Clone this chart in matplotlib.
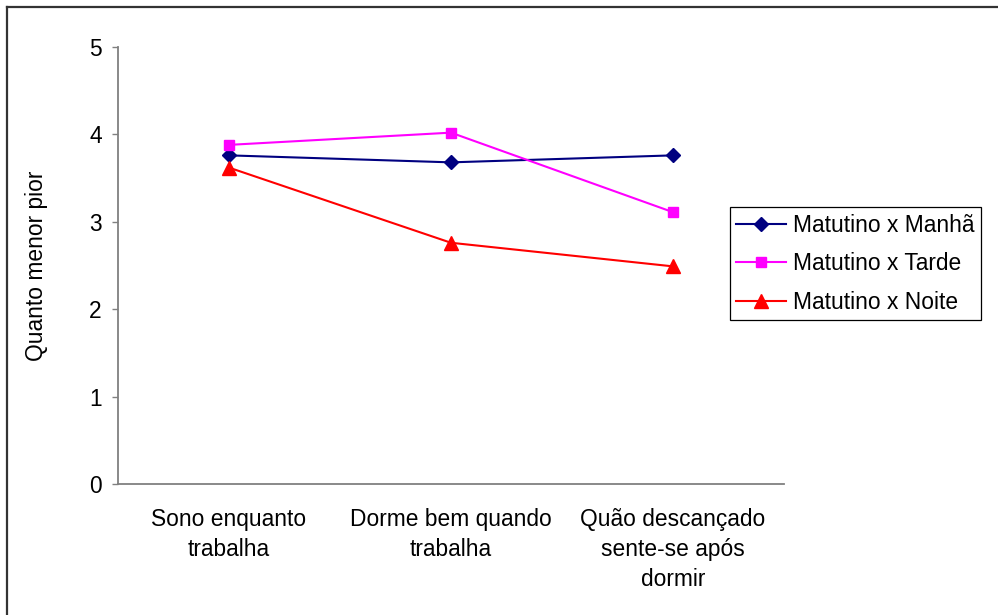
import matplotlib
matplotlib.use("Agg")
import matplotlib.pyplot as plt
from matplotlib.lines import Line2D

plt.rcParams["font.family"] = ["Liberation Sans", "DejaVu Sans"]
plt.rcParams["font.size"] = 16.4

categories = [
    "Sono enquanto\ntrabalha",
    "Dorme bem quando\ntrabalha",
    "Quão descançado\nsente-se após\ndormir",
]
manha = [3.76, 3.68, 3.76]
tarde = [3.88, 4.02, 3.11]
noite = [3.62, 2.76, 2.49]

series = [
    ("Matutino x Manhã", manha, "#000080", "D", 7),
    ("Matutino x Tarde", tarde, "#ff00ff", "s", 7),
    ("Matutino x Noite", noite, "#ff0000", "^", 9.5),
]

fig = plt.figure(figsize=(9.98, 6.15), dpi=100)
ax = fig.add_axes([0.1182, 0.2130, 0.6674, 0.7106])

x = list(range(len(categories)))
for label, values, color, marker, ms in series:
    ax.plot(x, values, color=color, marker=marker, markersize=ms,
            linewidth=1.5, label=label)

# category axis: points sit in the middle of each slot
ax.set_xlim(-0.5, len(categories) - 0.5)
ax.set_xticks(x)
ax.set_xticklabels(categories, linespacing=1.4)
ax.tick_params(axis="x", length=0, pad=17)

ax.set_ylim(0, 5)
ax.set_yticks(range(6))
ax.tick_params(axis="y", direction="out", length=4.5, width=1,
               color="#808080", pad=7)
ax.set_ylabel("Quanto menor pior", labelpad=30)

for side in ("top", "right"):
    ax.spines[side].set_visible(False)
for side in ("left", "bottom"):
    ax.spines[side].set_color("#808080")
    ax.spines[side].set_linewidth(1.3)

leg = ax.legend(loc="center", bbox_to_anchor=(0.857, 0.5715),
                bbox_transform=fig.transFigure, fancybox=False,
                edgecolor="black", framealpha=1, handlelength=2.2,
                handletextpad=0.3, labelspacing=0.68, borderpad=0.28,
                borderaxespad=0)
leg.get_frame().set_linewidth(0.9)

# outer chart border (left and top edges)
fig.add_artist(Line2D([0.007, 0.007], [0, 0.9886], transform=fig.transFigure,
                      color="#333333", linewidth=1.6))
fig.add_artist(Line2D([0.007, 1.0], [0.9886, 0.9886], transform=fig.transFigure,
                      color="#333333", linewidth=1.6))

fig.savefig("out.png", dpi=100)
